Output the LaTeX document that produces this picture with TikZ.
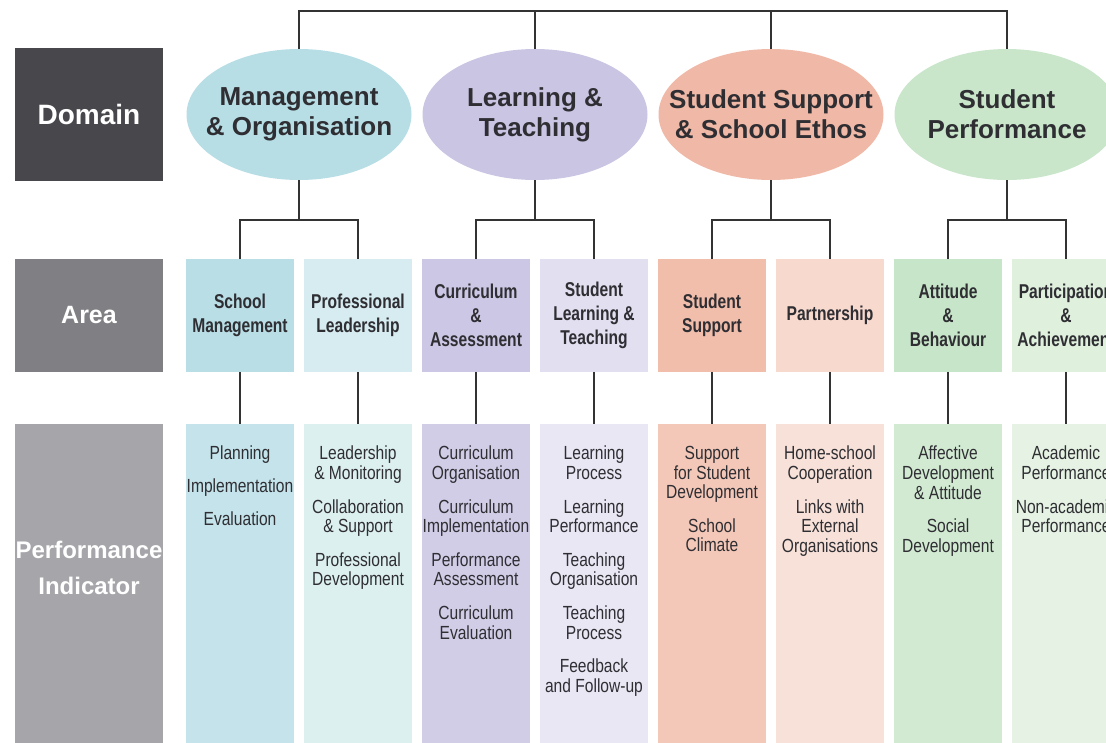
\documentclass[tikz,border=0pt]{standalone}
\usepackage{fontspec}
\setmainfont{Liberation Sans}
\newfontfamily\narrowfont[FakeStretch=0.82]{Liberation Sans}
\newfontfamily\areafont[FakeStretch=0.78]{Liberation Sans}
\usetikzlibrary{positioning,shapes.geometric}

\definecolor{domaingray}{HTML}{48474C}
\definecolor{areagray}{HTML}{808084}
\definecolor{pigray}{HTML}{A6A6AA}
\definecolor{textgray}{HTML}{2E2E33}
\definecolor{linegray}{HTML}{333333}
\definecolor{d1col}{HTML}{B7DDE5}
\definecolor{d2col}{HTML}{CAC5E3}
\definecolor{d3col}{HTML}{F0B8A6}
\definecolor{d4col}{HTML}{C9E6CB}
\definecolor{a1col}{HTML}{B9DEE6}
\definecolor{a2col}{HTML}{D6ECF0}
\definecolor{a3col}{HTML}{CCC7E4}
\definecolor{a4col}{HTML}{E2DFF0}
\definecolor{a5col}{HTML}{F2BEAC}
\definecolor{a6col}{HTML}{F7D9CE}
\definecolor{a7col}{HTML}{C7E5C8}
\definecolor{a8col}{HTML}{DFF0DD}
\definecolor{p1col}{HTML}{C4E3EA}
\definecolor{p2col}{HTML}{DDF0F0}
\definecolor{p3col}{HTML}{D2CDE7}
\definecolor{p4col}{HTML}{E9E7F4}
\definecolor{p5col}{HTML}{F4C8B8}
\definecolor{p6col}{HTML}{F7E1D8}
\definecolor{p7col}{HTML}{D2EAD2}
\definecolor{p8col}{HTML}{E6F3E4}

\begin{document}
\begin{tikzpicture}[x=1pt, y=-1pt,
labelbox/.style={rectangle, minimum width=148pt, inner sep=0pt, outer sep=0pt, text=white, font=\fontsize{25}{36}\selectfont\bfseries, align=center},
domainnode/.style={ellipse, minimum width=225pt, minimum height=131pt, inner xsep=-30pt, inner ysep=0pt, outer sep=0pt, text=textgray, font=\fontsize{26}{30}\selectfont\bfseries, align=center},
areanode/.style={rectangle, minimum width=108pt, minimum height=113pt, inner sep=0pt, outer sep=0pt, text=textgray, font=\areafont\fontsize{20}{24}\selectfont\bfseries, align=center},
pinode/.style={rectangle, minimum width=108pt, minimum height=326pt, inner sep=0pt, outer sep=0pt},
pitext/.style={inner sep=0pt, text=textgray, font=\narrowfont\fontsize{19}{19.6}\selectfont, align=center},
tree/.style={draw=linegray, line width=2.2pt},
]
\clip (0,0) rectangle (1106,742);

%Row labels
\node[labelbox, fill=domaingray, minimum height=133pt, font=\fontsize{28}{32}\selectfont\bfseries] (domain) at (89,114.5) {Domain};
\node[labelbox, fill=areagray, minimum height=113pt, below=78pt of domain] (area) {Area};
\node[labelbox, fill=pigray, minimum height=326pt, below=52pt of area] (pi) {};
\node[labelbox, font=\fontsize{24}{36}\selectfont\bfseries] (pilabel) at (89,568) {Performance\\Indicator};

%Domains
\node[domainnode, fill=d1col] (d1) at (299,114.5) {Management\\\& Organisation};
\node[domainnode, fill=d2col] (d2) at (535,114.5) {Learning \&\\Teaching};
\node[domainnode, fill=d3col] (d3) at (771,114.5) {Student Support\\\& School Ethos};
\node[domainnode, fill=d4col] (d4) at (1007,114.5) {Student\\Performance};

%Areas
\node[areanode, fill=a1col] (a1) at (240,315.5) {School\\Management};
\node[areanode, fill=a2col, right=10pt of a1] (a2) {Professional\\Leadership};
\node[areanode, fill=a3col, right=10pt of a2] (a3) {Curriculum\\\&\\Assessment};
\node[areanode, fill=a4col, right=10pt of a3] (a4) {Student\\Learning \&\\Teaching};
\node[areanode, fill=a5col, right=10pt of a4] (a5) {Student\\Support};
\node[areanode, fill=a6col, right=10pt of a5] (a6) {Partnership};
\node[areanode, fill=a7col, right=10pt of a6] (a7) {Attitude\\\&\\Behaviour};
\node[areanode, fill=a8col, right=10pt of a7] (a8) {Participation\\\&\\Achievement};

%Performance indicators
\foreach \i in {1,...,8}
  \node[pinode, fill=p\i col, below=52pt of a\i] (p\i) {};

\node[pitext, below=22pt of p1.north] (t1) {Planning\\[13pt]Implementation\\[13pt]Evaluation};
\node[pitext, below=22pt of p2.north] (t2) {Leadership\\\& Monitoring\\[14pt]Collaboration\\\& Support\\[14pt]Professional\\Development};
\node[pitext, below=22pt of p3.north] (t3) {Curriculum\\Organisation\\[14pt]Curriculum\\Implementation\\[14pt]Performance\\Assessment\\[14pt]Curriculum\\Evaluation};
\node[pitext, below=22pt of p4.north] (t4) {Learning\\Process\\[14pt]Learning\\Performance\\[14pt]Teaching\\Organisation\\[14pt]Teaching\\Process\\[14pt]Feedback\\and Follow-up};
\node[pitext, below=22pt of p5.north] (t5) {Support\\for Student\\Development\\[14pt]School\\Climate};
\node[pitext, below=22pt of p6.north] (t6) {Home-school\\Cooperation\\[14pt]Links with\\External\\Organisations};
\node[pitext, below=22pt of p7.north] (t7) {Affective\\Development\\\& Attitude\\[14pt]Social\\Development};
\node[pitext, below=22pt of p8.north] (t8) {Academic\\Performance\\[14pt]Non-academic\\Performance};

%Lines
\coordinate (root) at (653,11);
\coordinate (fork) at (0,220);
\draw[tree] (d1.north) |- (root) -| (d4.north);
\draw[tree] (d2.north) -- (d2.north |- root);
\draw[tree] (d3.north) -- (d3.north |- root);
\foreach \d/\l/\r in {1/1/2, 2/3/4, 3/5/6, 4/7/8}
  \draw[tree] (d\d.south) -- (d\d.south |- fork) (a\l.north) |- (d\d.south |- fork) -| (a\r.north);
\foreach \i in {1,...,8}
  \draw[tree] (a\i.south) -- (p\i.north);
\end{tikzpicture}
\end{document}
